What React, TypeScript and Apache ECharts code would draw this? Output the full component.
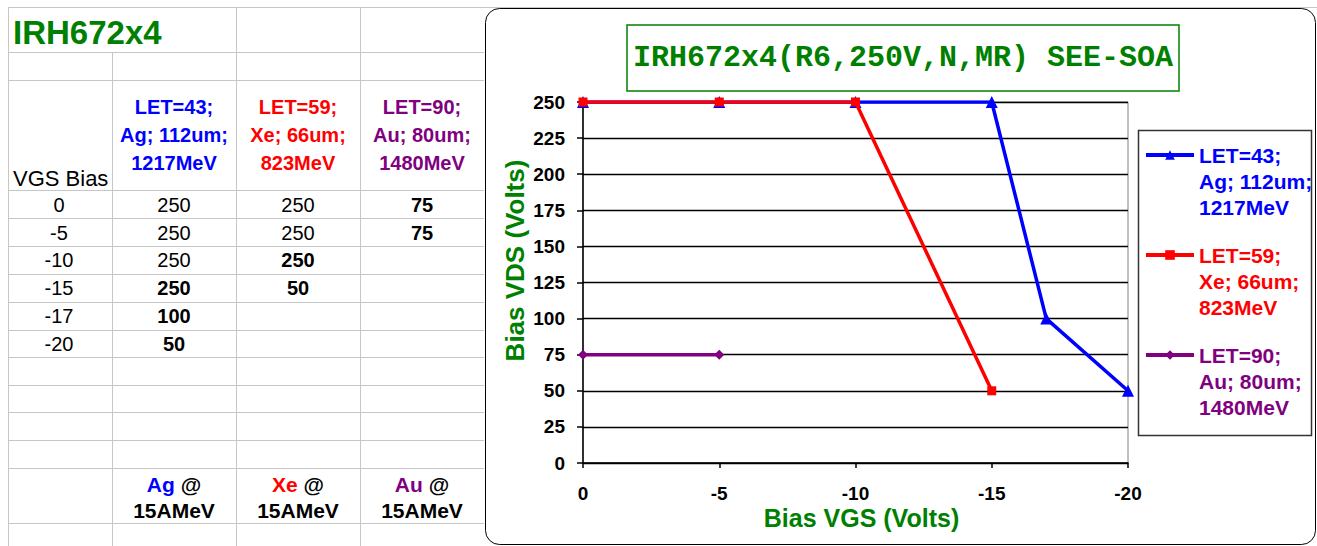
import React, { useEffect, useRef } from 'react';
import * as echarts from 'echarts';

// ---------- data ----------
const vgsBias = [0, -5, -10, -15, -17, -20];
const let43Vds = [250, 250, 250, 250, 100, 50];
const let59Vds = [250, 250, 250, 50, null, null];
const let90Vds = [75, 75, null, null, null, null];
const ionHeaders = [
  ['LET=43;', 'Ag; 112um;', '1217MeV'],
  ['LET=59;', 'Xe; 66um;', '823MeV'],
  ['LET=90;', 'Au; 80um;', '1480MeV'],
];
const ionNames = ['Ag', 'Xe', 'Au'];
const beamEnergy = '15AMeV';
const sheetTitle = 'IRH672x4';
const chartTitle = 'IRH672x4(R6,250V,N,MR) SEE-SOA';
const biasColumnLabel = 'VGS Bias';
const xAxisName = 'Bias VGS (Volts)';
const yAxisName = 'Bias VDS (Volts)';

// ---------- styles ----------
const seriesValues = [let43Vds, let59Vds, let90Vds];
const boldCells = [
  [false, false, false, true, true, true],
  [false, false, true, true, false, false],
  [true, true, false, false, false, false],
];
const ionColors = ['#0000FF', '#FF0000', '#800080'];
const ionSymbols = ['triangle', 'rect', 'diamond'];
const ionSymbolSizes = [12, 9, 10];
const GREEN = '#008000';
const SANS = "'Liberation Sans', Arial, sans-serif";
const GRID = '#c6c6c6';

function buildTable(): any[] {
  const els: any[] = [];
  const rowY = [7, 52, 80, 190, 218, 246, 274, 302, 330, 357, 385, 412, 440, 468, 523];
  const line = (x1: number, y1: number, x2: number, y2: number) => ({
    type: 'line',
    silent: true,
    shape: { x1, y1, x2, y2 },
    style: { stroke: GRID, lineWidth: 1 },
  });
  els.push(line(8, 7.5, 1317, 7.5));
  rowY.slice(1).forEach((y) => els.push(line(8, y + 0.5, 484, y + 0.5)));
  els.push(line(8.5, 7, 8.5, 546));
  els.push(line(112.5, 52, 112.5, 546));
  els.push(line(236.5, 7, 236.5, 546));
  els.push(line(360.5, 7, 360.5, 546));

  const colCenters = [60, 174, 298, 422];
  const txt = (x: number, y: number, text: string, o: any = {}) => ({
    type: 'text',
    silent: true,
    x,
    y,
    style: {
      text,
      fontFamily: SANS,
      fontSize: o.fontSize || 20,
      fontWeight: o.bold ? 'bold' : 'normal',
      fill: o.color || '#000',
      align: o.align || 'center',
      verticalAlign: 'middle',
    },
  });
  els.push(txt(13, 32, sheetTitle, { fontSize: 33, bold: true, color: GREEN, align: 'left' }));
  ionHeaders.forEach((lines, k) => {
    lines.forEach((l, j) => {
      els.push(txt(colCenters[k + 1], 107 + j * 28, l, { fontSize: 20, bold: true, color: ionColors[k] }));
    });
  });
  els.push(txt(13, 178, biasColumnLabel, { fontSize: 22, align: 'left' }));
  vgsBias.forEach((v, i) => {
    const y = 205 + i * 27.7;
    els.push(txt(colCenters[0] - 1, y, String(v), { fontSize: 20 }));
    seriesValues.forEach((vals, k) => {
      const val = vals[i];
      if (val == null) return;
      els.push(txt(colCenters[k + 1], y, String(val), { fontSize: 20, bold: boldCells[k][i] }));
    });
  });
  ionNames.forEach((n, k) => {
    els.push({
      type: 'text',
      silent: true,
      x: colCenters[k + 1],
      y: 484,
      style: {
        text: `{c|${n} }{k|@}`,
        align: 'center',
        verticalAlign: 'middle',
        rich: {
          c: { fontFamily: SANS, fontSize: 21, fontWeight: 'bold', fill: ionColors[k] },
          k: { fontFamily: SANS, fontSize: 21, fontWeight: 'bold', fill: '#000' },
        },
      },
    });
    els.push(txt(colCenters[k + 1], 510, beamEnergy, { fontSize: 21, bold: true }));
  });

  // chart area frame
  els.push({
    type: 'rect',
    silent: true,
    z: -1,
    shape: { x: 485.5, y: 8.5, width: 830, height: 536, r: 14 },
    style: { fill: '#fff', stroke: '#000', lineWidth: 1 },
  });
  // legend frame
  els.push({
    type: 'rect',
    silent: true,
    z: -1,
    shape: { x: 1138.5, y: 130.5, width: 173, height: 305 },
    style: { fill: '#fff', stroke: '#333', lineWidth: 1.5 },
  });
  return els;
}

export default function App() {
  const ref = useRef<HTMLDivElement>(null);
  useEffect(() => {
    if (!ref.current) return;
    const chart = echarts.init(ref.current, undefined, { renderer: 'svg' });
    const names = ionHeaders.map((l) => l.join(' '));
    const labelMap: Record<string, string> = {};
    // two leading blank lines keep the first text line level with the legend icon
    names.forEach((n, k) => (labelMap[n] = '\n\n' + ionHeaders[k].join('\n')));

    const option: any = {
      animation: false,
      backgroundColor: '#fff',
      title: {
        text: chartTitle,
        left: 627,
        top: 25,
        padding: [18, 6, 18, 6],
        borderColor: GREEN,
        borderWidth: 1.5,
        textStyle: {
          fontFamily: "'Liberation Mono', 'Courier New', monospace",
          fontWeight: 'bold',
          fontSize: 30,
          lineHeight: 30,
          color: GREEN,
        },
      },
      grid: {
        left: 583,
        top: 102,
        width: 545,
        height: 361,
        show: true,
        borderColor: '#808080',
        borderWidth: 1,
        backgroundColor: 'transparent',
      },
      legend: {
        orient: 'vertical',
        left: 1144,
        top: 90,
        padding: 0,
        itemWidth: 48,
        itemHeight: 12,
        itemGap: -30,
        formatter: (n: string) => labelMap[n] || n,
        lineStyle: { width: 4 },
        textStyle: {
          fontFamily: SANS,
          fontSize: 21,
          fontWeight: 'bold',
          lineHeight: 26,
        },
        data: names.map((n, k) => ({ name: n, textStyle: { color: ionColors[k] } })),
      },
      xAxis: {
        type: 'value',
        inverse: true,
        min: -20,
        max: 0,
        interval: 5,
        name: xAxisName,
        nameLocation: 'middle',
        nameGap: 44,
        nameMoveOverlap: false,
        nameTextStyle: {
          fontFamily: SANS,
          fontSize: 25,
          lineHeight: 22,
          fontWeight: 'bold',
          color: GREEN,
          padding: [0, 0, 0, 12],
        },
        axisLine: { lineStyle: { color: '#000', width: 1.5 } },
        axisTick: { show: true, length: 5, lineStyle: { color: '#000', width: 1.5 } },
        axisLabel: { fontFamily: SANS, fontSize: 19, lineHeight: 18, fontWeight: 'bold', color: '#000', margin: 21 },
        splitLine: { show: false },
      },
      yAxis: {
        type: 'value',
        min: 0,
        max: 250,
        interval: 25,
        name: yAxisName,
        nameLocation: 'middle',
        nameGap: 55,
        nameMoveOverlap: false,
        nameTextStyle: { fontFamily: SANS, fontSize: 26, fontWeight: 'bold', color: GREEN, padding: [0, 0, 0, 44] },
        axisLine: { show: true, lineStyle: { color: '#000', width: 1.5 } },
        axisTick: { show: true, length: 6, lineStyle: { color: '#000', width: 1.5 } },
        axisLabel: { fontFamily: SANS, fontSize: 19, fontWeight: 'bold', color: '#000', margin: 18 },
        splitLine: { show: true, lineStyle: { color: '#000', width: 1.3 } },
      },
      graphic: buildTable(),
      series: seriesValues.map((vals, k) => ({
        name: names[k],
        type: 'line',
        data: vgsBias.map((v, i) => [v, vals[i]]).filter((d) => d[1] != null),
        symbol: ionSymbols[k],
        symbolSize: ionSymbolSizes[k],
        showAllSymbol: true,
        lineStyle: { color: ionColors[k], width: 3.5 },
        itemStyle: { color: ionColors[k] },
        z: 3 + k,
      })),
    };
    chart.setOption(option);
    return () => chart.dispose();
  }, []);
  return (
    <div
      ref={ref}
      style={{ position: 'fixed', left: 0, top: 0, width: 1317, height: 546, background: '#fff' }}
    />
  );
}
